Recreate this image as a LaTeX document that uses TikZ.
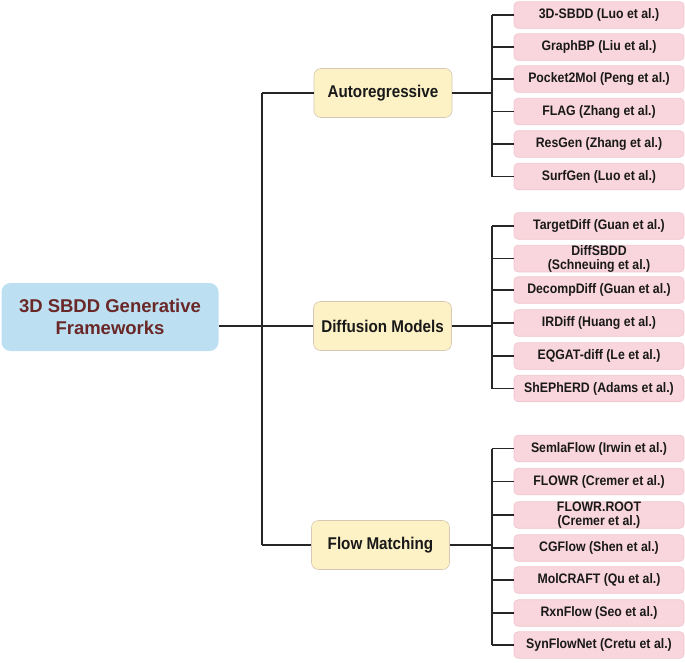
\documentclass[tikz,border=0pt]{standalone}
\usepackage{fontspec}
\usepackage{graphicx}
\setmainfont{Liberation Sans}
\definecolor{leaffill}{HTML}{F9D6DD}
\definecolor{leafborder}{HTML}{F0C4CC}
\definecolor{branchfill}{HTML}{FDF2C6}
\definecolor{branchborder}{HTML}{D6C8B4}
\definecolor{rootfill}{HTML}{BCE0F1}
\definecolor{roottext}{HTML}{6A2727}
\newcommand{\vst}[1]{\scalebox{1}[1.12]{#1}}
\begin{document}
\begin{tikzpicture}[x=1pt,y=-1pt,
  leaf/.style={draw=leafborder, fill=leaffill, rounded corners=4pt, minimum width=170pt, minimum height=26.5pt, inner sep=0pt, font=\fontsize{12.3}{14}\selectfont\bfseries, align=center, line width=0.6pt, text=black!90},
  branch/.style={draw=branchborder, fill=branchfill, rounded corners=7pt, minimum width=138pt, minimum height=49pt, inner sep=0pt, font=\fontsize{15.2}{18}\selectfont\bfseries, line width=0.6pt, text=black!90},
  rootbox/.style={fill=rootfill, rounded corners=9pt, minimum width=217pt, minimum height=68pt, inner sep=0pt, font=\fontsize{18.5}{21.5}\selectfont\bfseries, text=roottext, align=center},
  conn/.style={line width=1.1pt, draw=black!85}]
\useasboundingbox (0,0) rectangle (685,662);

% root
\node[rootbox] (root) at (110,317) {3D SBDD Generative\\Frameworks};

% branches
\node[branch] (ar) at (383,93) {\vst{Autoregressive}};
\node[branch] (dm) at (382.5,326) {\vst{Diffusion Models}};
\node[branch] (fm) at (380.5,545) {\vst{Flow Matching}};

% leaves: autoregressive
\node[leaf] (a1) at (599,15) {\vst{3D-SBDD (Luo et al.)}};
\node[leaf] (a2) at (599,47) {\vst{GraphBP (Liu et al.)}};
\node[leaf] (a3) at (599,79) {\vst{Pocket2Mol (Peng et al.)}};
\node[leaf] (a4) at (599,111.5) {\vst{FLAG (Zhang et al.)}};
\node[leaf] (a5) at (599,144) {\vst{ResGen (Zhang et al.)}};
\node[leaf] (a6) at (599,176.5) {\vst{SurfGen (Luo et al.)}};

% leaves: diffusion
\node[leaf] (d1) at (599,226) {\vst{TargetDiff (Guan et al.)}};
\node[leaf] (d2) at (599,258.5) {\vst{DiffSBDD}\\\vst{(Schneuing et al.)}};
\node[leaf] (d3) at (599,290) {\vst{DecompDiff (Guan et al.)}};
\node[leaf] (d4) at (599,323) {\vst{IRDiff (Huang et al.)}};
\node[leaf] (d5) at (599,356) {\vst{EQGAT-diff (Le et al.)}};
\node[leaf] (d6) at (599,388.5) {\vst{ShEPhERD (Adams et al.)}};

% leaves: flow matching
\node[leaf] (f1) at (599,448.5) {\vst{SemlaFlow (Irwin et al.)}};
\node[leaf] (f2) at (599,481.5) {\vst{FLOWR (Cremer et al.)}};
\node[leaf] (f3) at (599,515) {\vst{FLOWR.ROOT}\\\vst{(Cremer et al.)}};
\node[leaf] (f4) at (599,548) {\vst{CGFlow (Shen et al.)}};
\node[leaf] (f5) at (599,580) {\vst{MolCRAFT (Qu et al.)}};
\node[leaf] (f6) at (599,613) {\vst{RxnFlow (Seo et al.)}};
\node[leaf] (f7) at (599,645) {\vst{SynFlowNet (Cretu et al.)}};

% trunk
\coordinate (trunk) at (262,0);
\coordinate (bus) at (492,0);
\draw[conn] (ar.west -| trunk) -- (ar.west);
\draw[conn] (ar.west -| trunk) -- (fm.west -| trunk);
\draw[conn] (root.east |- dm.west) -- (dm.west);
\draw[conn] (fm.west -| trunk) -- (fm.west);

% autoregressive bus
\draw[conn] (ar.east) -- (ar.east -| bus);
\draw[conn] (a1.west -| bus) -- (a6.west -| bus);
\foreach \n in {a1,a2,a3,a4,a5,a6} \draw[conn] (\n.west -| bus) -- (\n.west);

% diffusion bus
\draw[conn] (dm.east) -- (dm.east -| bus);
\draw[conn] (d1.west -| bus) -- (d6.west -| bus);
\foreach \n in {d1,d2,d3,d4,d5,d6} \draw[conn] (\n.west -| bus) -- (\n.west);

% flow bus
\draw[conn] (fm.east) -- (fm.east -| bus);
\draw[conn] (f1.west -| bus) -- (f7.west -| bus);
\foreach \n in {f1,f2,f3,f4,f5,f6,f7} \draw[conn] (\n.west -| bus) -- (\n.west);
\end{tikzpicture}
\end{document}
